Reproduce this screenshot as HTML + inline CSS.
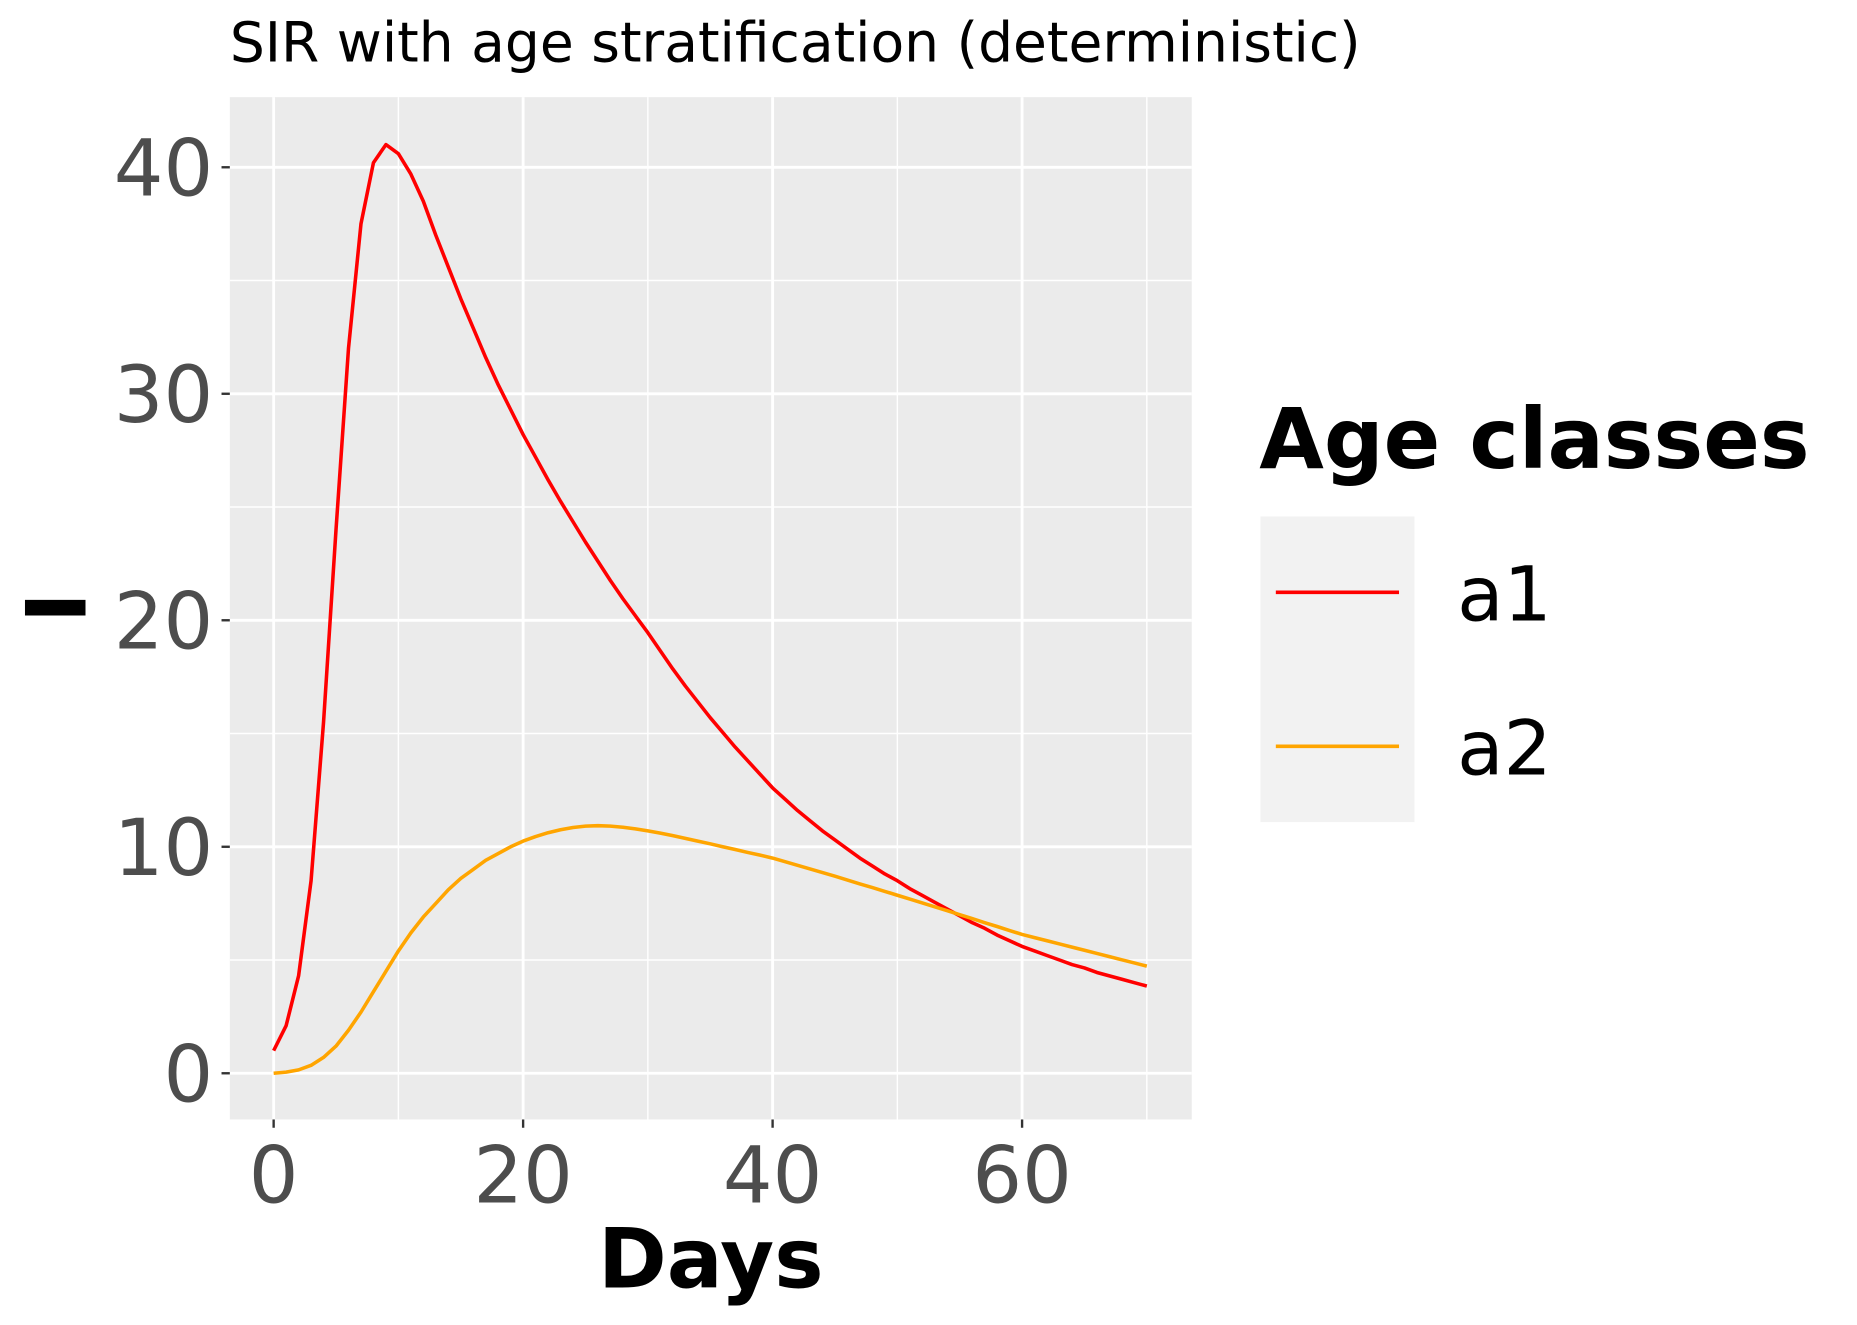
<!DOCTYPE html>
<html><head><meta charset="utf-8"><style>
html,body{margin:0;padding:0;background:#fff;}
svg{display:block;font-family:"DejaVu Sans","Liberation Sans",sans-serif;}
</style></head><body>
<svg id="chart" width="1857" height="1325" viewBox="0 0 1567.6 1118.5" xmlns="http://www.w3.org/2000/svg">
<rect width="1567.6" height="1118.5" fill="#fff"/>
<text x="194" y="52" font-size="46.5" fill="#000">SIR with age stratification (deterministic)</text>
<rect x="194" y="82" width="812" height="863" fill="#ebebeb"/>
<g id="grid"></g>
<g id="series"></g>
<g id="axes"></g>
<text x="600" y="1087" font-size="70" font-weight="bold" text-anchor="middle">Days</text>
<text transform="translate(72,513) rotate(-90)" font-size="70" font-weight="bold" text-anchor="middle">I</text>
<text x="1063" y="395" font-size="70.5" font-weight="bold">Age classes</text>
<rect x="1064" y="436" width="130" height="258" fill="#f2f2f2"/>
<line x1="1077" y1="500" x2="1181" y2="500" stroke="#ff0000" stroke-width="3"/>
<line x1="1077" y1="630" x2="1181" y2="630" stroke="#ffa500" stroke-width="3"/>
<text x="1230" y="524" font-size="64">a1</text>
<text x="1230" y="654" font-size="64">a2</text>
</svg>
<script>
const days = Array.from({length:71},(_,i)=>i);
const a1 = [1,2.1,4.3,8.5,15.5,24,32,37.5,40.2,41,40.6,39.7,38.5,37.0,35.6,34.2,32.9,31.6,30.4,29.3,28.2,27.2,26.2,25.25,24.35,23.45,22.6,21.75,20.95,20.2,19.45,18.65,17.85,17.1,16.4,15.7,15.05,14.4,13.8,13.2,12.6,12.1,11.6,11.15,10.7,10.3,9.9,9.5,9.15,8.8,8.5,8.15,7.85,7.55,7.25,6.95,6.65,6.4,6.1,5.85,5.6,5.4,5.2,5.0,4.8,4.65,4.45,4.3,4.15,4.0,3.85];
const a2 = [0,0.05,0.15,0.35,0.7,1.2,1.9,2.7,3.6,4.5,5.4,6.2,6.9,7.5,8.1,8.6,9.0,9.4,9.7,10.0,10.25,10.45,10.62,10.75,10.85,10.91,10.93,10.91,10.86,10.79,10.7,10.6,10.49,10.37,10.25,10.13,10.0,9.88,9.75,9.63,9.5,9.34,9.18,9.02,8.86,8.7,8.53,8.36,8.2,8.03,7.86,7.69,7.52,7.35,7.18,7.0,6.83,6.65,6.48,6.3,6.13,5.99,5.85,5.71,5.57,5.43,5.29,5.15,5.01,4.87,4.73];
const xTicks = [0,20,40,60];
const yTicks = [0,10,20,30,40];
const NS="http://www.w3.org/2000/svg";
const X = v => 231 + v*10.53;
const Y = v => 906 - v*19.12;
const grid=document.getElementById('grid'), axes=document.getElementById('axes'), series=document.getElementById('series');
function mk(tag,attrs,parent){const e=document.createElementNS(NS,tag);for(const k in attrs)e.setAttribute(k,attrs[k]);parent.appendChild(e);return e;}
for(let i=0;i<xTicks.length;i++){
  const v=xTicks[i]+10; const l=mk('line',{x1:X(v),x2:X(v),y1:82,y2:945,stroke:'#fff','stroke-width':1.2},grid);
  
  
}
for(let i=0;i<yTicks.length-1;i++){
  const v=yTicks[i]+5; const l=mk('line',{x1:194,x2:1006,y1:Y(v),y2:Y(v),stroke:'#fff','stroke-width':1.2},grid);
  
  
}
xTicks.forEach(v=>{
  const l=mk('line',{x1:X(v),x2:X(v),y1:82,y2:945,stroke:'#fff','stroke-width':2.4},grid);
  
  
  const t=mk('line',{x1:X(v),x2:X(v),y1:945,y2:952,stroke:'#333','stroke-width':2},axes);
  
  
  const tx=mk('text',{x:X(v),y:1015,'font-size':66,fill:'#4d4d4d','text-anchor':'middle'},axes);
  tx.textContent=v;
  
  
});
yTicks.forEach(v=>{
  const l=mk('line',{x1:194,x2:1006,y1:Y(v),y2:Y(v),stroke:'#fff','stroke-width':2.4},grid);
  
  
  const t=mk('line',{x1:187,x2:194,y1:Y(v),y2:Y(v),stroke:'#333','stroke-width':2},axes);
  
  
  const tx=mk('text',{x:180,y:Y(v)+24,'font-size':66,fill:'#4d4d4d','text-anchor':'end'},axes);
  tx.textContent=v;
  
  
});
function line(vals,color,name){
  const d=vals.map((v,i)=>(i?'L':'M')+X(days[i]).toFixed(2)+','+Y(v).toFixed(2)).join(' ');
  const p=mk('path',{d:d,fill:'none',stroke:color,'stroke-width':3,'stroke-linejoin':'round'},series);
  
  
}
line(a1,'#ff0000','series-a1-line');
line(a2,'#ffa500','series-a2-line');
</script>
</body></html>
